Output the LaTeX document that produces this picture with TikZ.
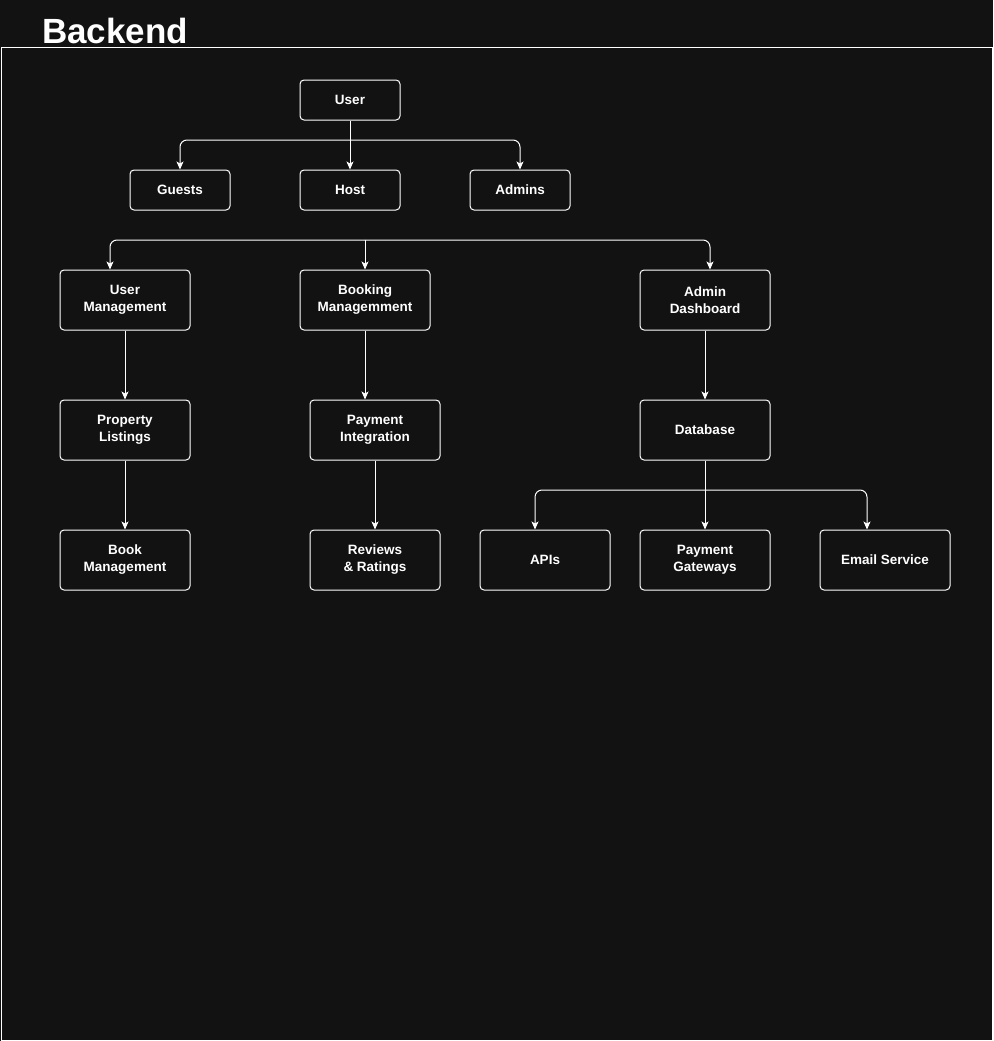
\documentclass[tikz,border=0pt]{standalone}
\usepackage{fontspec}
\setmainfont{Liberation Sans}
\usetikzlibrary{arrows.meta}
\definecolor{bgdark}{HTML}{121212}
\definecolor{linewhite}{HTML}{FFFFFF}
\begin{document}
\begin{tikzpicture}[x=1pt,y=-1pt,
    box/.style={draw=linewhite,line width=1pt,rounded corners=4pt,fill=bgdark,text=white,
        font=\fontsize{13.5}{17}\selectfont\bfseries,align=center,inner sep=0pt},
    small/.style={box,minimum width=100pt,minimum height=40pt},
    wide/.style={box,minimum width=130pt,minimum height=60pt},
    conn/.style={draw=linewhite,line width=1pt,rounded corners=7pt,-{Stealth[length=8pt,width=7pt,inset=2pt]}}]
    \fill[bgdark] (0,0) rectangle (993,1041);
    \useasboundingbox (0,0) rectangle (993,1041);
    %% title and frame
    \node[anchor=base west,text=white,font=\fontsize{35}{40}\selectfont\bfseries,inner sep=0pt] (title) at (42,44) {Backend};
    \draw[linewhite,line width=1pt] (1,48) rectangle (992,1040);
    %% users
    \node[small] (U) at (350,100) {User};
    \node[small] (G) at (180,190) {Guests};
    \node[small] (H) at (350,190) {Host};
    \node[small] (A) at (520,190) {Admins};
    %% modules
    \node[wide] (UM) at (125,300) {User\\Management};
    \node[wide] (BM) at (365,300) {Booking\\Managemment};
    \node[wide] (AD) at (705,300) {Admin\\Dashboard};
    \node[wide] (PL) at (125,430) {Property\\Listings};
    \node[wide] (PI) at (375,430) {Payment\\Integration};
    \node[wide] (DB) at (705,430) {Database};
    \node[wide] (BK) at (125,560) {Book\\Management};
    \node[wide] (RR) at (375,560) {Reviews\\\& Ratings};
    \node[wide] (API) at (545,560) {APIs};
    \node[wide] (PG) at (705,560) {Payment\\Gateways};
    \node[wide] (ES) at (885,560) {Email Service};
    %% forks
    \coordinate (ufork) at (350,140);
    \coordinate (mfork) at (365,240);
    \coordinate (dfork) at (705,490);
    %% connectors
    \draw[conn] (U.south) -- (H.north);
    \draw[conn] (ufork) -| (G.north);
    \draw[conn] (ufork) -| (A.north);
    \draw[conn] (mfork) -| ([xshift=-15pt]UM.north);
    \draw[conn] (mfork) -- (BM.north);
    \draw[conn] (mfork) -| ([xshift=5pt]AD.north);
    \draw[conn] (UM.south) -- (PL.north);
    \draw[conn] (BM.south) -- (BM.south |- PI.north);
    \draw[conn] (AD.south) -- (DB.north);
    \draw[conn] (PL.south) -- (BK.north);
    \draw[conn] (PI.south) -- (RR.north);
    \draw[conn] (DB.south) -- (PG.north);
    \draw[conn] (dfork) -| ([xshift=-10pt]API.north);
    \draw[conn] (dfork) -| ([xshift=-18pt]ES.north);
\end{tikzpicture}
\end{document}
